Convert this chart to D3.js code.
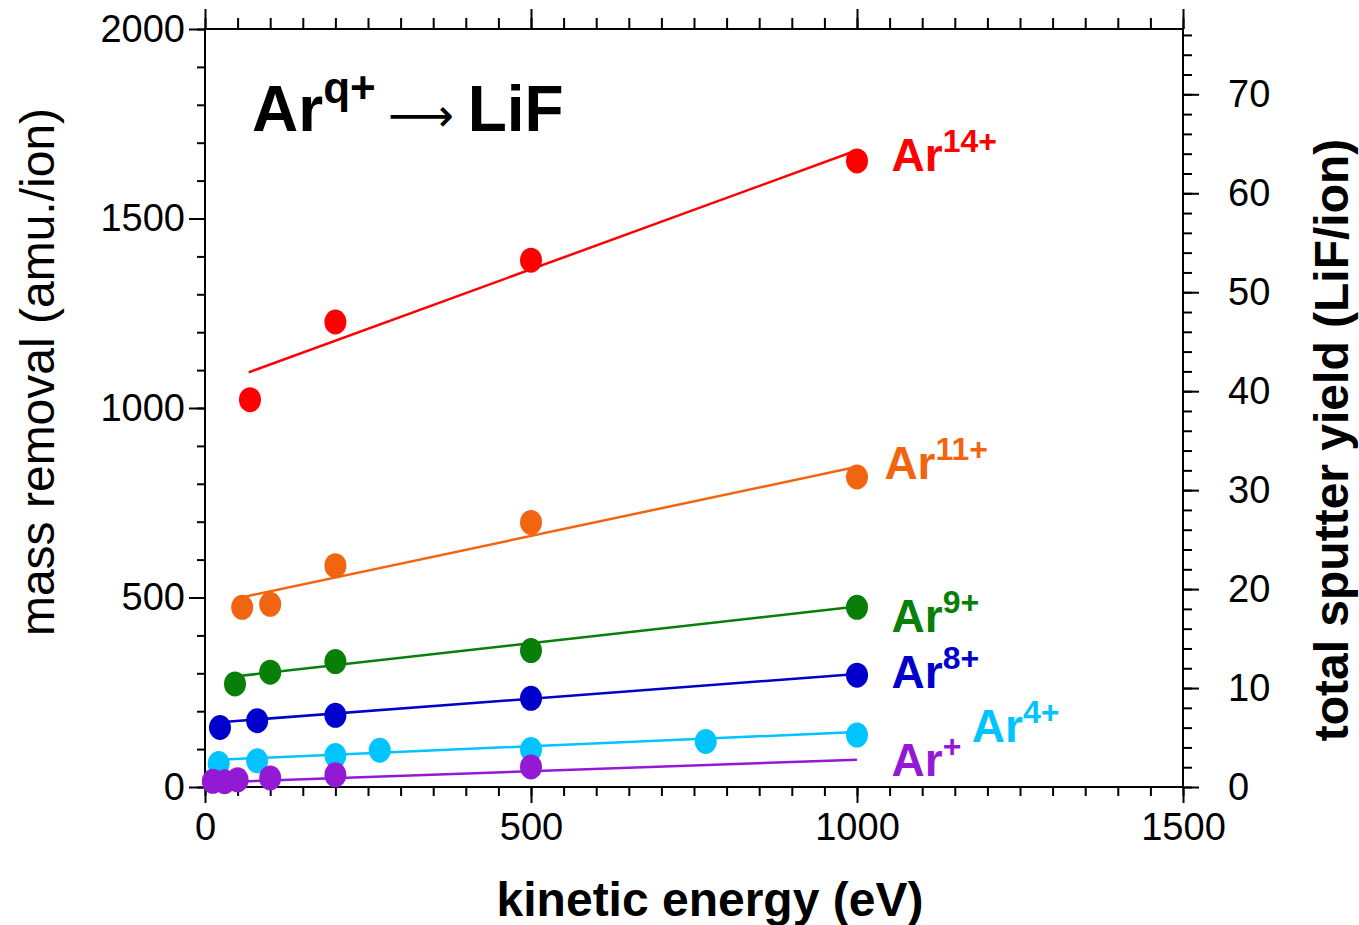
<!DOCTYPE html>
<html>
<head>
<meta charset="utf-8">
<script src="https://cdn.jsdelivr.net/npm/d3@7"></script>
<style>
  body { margin: 0; background: #fff; }
  text { font-family: "Liberation Sans", Arial, sans-serif; }
</style>
</head>
<body>
<script>
// ---- data ----
const ions = ["Ar14+", "Ar11+", "Ar9+", "Ar8+", "Ar4+", "Ar+"];
const ionSup = ["14+", "11+", "9+", "8+", "4+", "+"];
const ionColors = ["#ff0000", "#f26510", "#087f08", "#0000cc", "#00c4ff", "#9419d4"];

// measured points (energy eV, mass removal amu/ion)
const energy14 = [69, 200, 500, 1000];
const mass14   = [1022, 1227, 1390, 1652];
const energy11 = [57, 100, 200, 500, 1000];
const mass11   = [474, 482, 584, 698, 818];
const energy9  = [46, 100, 200, 500, 1000];
const mass9    = [272, 303, 331, 360, 474];
const energy8  = [23, 80, 200, 500, 1000];
const mass8    = [157, 175, 189, 234, 295];
const energy4  = [21, 80, 200, 268, 500, 768, 1000];
const mass4    = [62, 69, 83, 97, 99, 120, 137];
const energy1  = [12, 30, 50, 100, 200, 500];
const mass1    = [15, 14, 19, 24, 32, 53];

// fitted lines: [start, end] energy and mass
const fitE = [[67, 1000], [58, 1000], [48, 1000], [23, 1000], [21, 1000], [12, 1000]];
const fitM = [[1094, 1680], [501, 845], [292, 476], [171, 298], [72, 145], [12, 72]];

// label anchors (energy, mass)
const labelE = [1053, 1042, 1053, 1053, 1176, 1053];
const labelM = [1625, 812, 410, 262, 118, 28];

const xTicks = [0, 500, 1000, 1500];
const yTicks = [0, 500, 1000, 1500, 2000];
const y2Ticks = [0, 10, 20, 30, 40, 50, 60, 70];

const series = [
  [energy14, mass14], [energy11, mass11], [energy9, mass9],
  [energy8, mass8], [energy4, mass4], [energy1, mass1]
];

// ---- layout ----
const W = 1359, H = 925;
const plot = {left: 205, right: 1183, top: 29, bottom: 787};

const svg = d3.select("body").append("svg")
  .attr("width", W).attr("height", H);

const x = d3.scaleLinear().domain([0, 1500]).range([plot.left, plot.right]);
const y = d3.scaleLinear().domain([0, 2000]).range([plot.bottom, plot.top]);
const y2 = d3.scaleLinear().domain([0, 76.6]).range([plot.bottom, plot.top]);

// axes with minor + major ticks
function styleAxis(g) {
  g.selectAll(".domain").remove();
  g.selectAll("line").attr("stroke", "#000").attr("stroke-width", 2);
  g.selectAll("text").attr("font-size", 38).attr("fill", "#000");
}

// bottom
svg.append("g").attr("transform", `translate(0,${plot.bottom})`)
  .call(d3.axisBottom(x).tickValues(d3.range(0, 1501, 50)).tickSize(9).tickFormat(""))
  .call(styleAxis);
svg.append("g").attr("transform", `translate(0,${plot.bottom})`)
  .call(d3.axisBottom(x).tickValues(xTicks).tickSize(16).tickPadding(10).tickFormat(d3.format("d")))
  .call(styleAxis);
// top
svg.append("g").attr("transform", `translate(0,${plot.top})`)
  .call(d3.axisTop(x).tickValues(d3.range(0, 1501, 50)).tickSize(11).tickFormat(""))
  .call(styleAxis);
svg.append("g").attr("transform", `translate(0,${plot.top})`)
  .call(d3.axisTop(x).tickValues(xTicks).tickSize(20).tickFormat(""))
  .call(styleAxis);
// left
svg.append("g").attr("transform", `translate(${plot.left},0)`)
  .call(d3.axisLeft(y).tickValues(d3.range(0, 2001, 100)).tickSize(8).tickFormat(""))
  .call(styleAxis);
svg.append("g").attr("transform", `translate(${plot.left},0)`)
  .call(d3.axisLeft(y).tickValues(yTicks).tickSize(16).tickPadding(4).tickFormat(d3.format("d")))
  .call(styleAxis);
// right
svg.append("g").attr("transform", `translate(${plot.right},0)`)
  .call(d3.axisRight(y2).tickValues(d3.range(0, 77, 2)).tickSize(9).tickFormat(""))
  .call(styleAxis);
svg.append("g").attr("transform", `translate(${plot.right},0)`)
  .call(d3.axisRight(y2).tickValues(y2Ticks).tickSize(16).tickPadding(29).tickFormat(d3.format("d")))
  .call(styleAxis);

// frame
svg.append("rect")
  .attr("x", plot.left).attr("y", plot.top)
  .attr("width", plot.right - plot.left).attr("height", plot.bottom - plot.top)
  .attr("fill", "none").attr("stroke", "#000").attr("stroke-width", 2);

// fit lines
const line = d3.line().x(d => x(d[0])).y(d => y(d[1]));
ions.forEach((ion, i) => {
  svg.append("path")
    .datum(d3.zip(fitE[i], fitM[i]))
    .attr("d", line)
    .attr("fill", "none")
    .attr("stroke", ionColors[i])
    .attr("stroke-width", 2.5);
});

// points
ions.forEach((ion, i) => {
  const pts = d3.zip(series[i][0], series[i][1]);
  svg.append("g").selectAll("ellipse")
    .data(pts).enter().append("ellipse")
    .attr("cx", d => x(d[0]))
    .attr("cy", d => y(d[1]))
    .attr("rx", 11).attr("ry", 12.5)
    .attr("fill", ionColors[i]);
});

// series labels
ions.forEach((ion, i) => {
  const t = svg.append("text")
    .attr("x", x(labelE[i])).attr("y", y(labelM[i]))
    .attr("fill", ionColors[i])
    .attr("font-size", 46).attr("font-weight", "bold");
  t.append("tspan").text("Ar");
  t.append("tspan").text(ionSup[i])
    .attr("font-size", 32).attr("dy", -19);
});

// title
const title = svg.append("text")
  .attr("x", 252).attr("y", 131)
  .attr("font-size", 64).attr("font-weight", "bold").attr("fill", "#000");
title.append("tspan").text("Ar");
title.append("tspan").text("q+").attr("font-size", 44).attr("dy", -28);
title.append("tspan").text("\u27F6")
  .attr("font-family", "DejaVu Sans").attr("font-weight", "normal").attr("font-size", 46)
  .attr("dx", 12).attr("dy", 28);
title.append("tspan").text("LiF").attr("dx", 14);

// axis titles
svg.append("text")
  .attr("transform", `translate(54,372) rotate(-90)`)
  .attr("text-anchor", "middle")
  .attr("font-size", 48).attr("fill", "#000")
  .text("mass removal (amu./ion)");

svg.append("text")
  .attr("transform", `translate(1348,440) rotate(-90)`)
  .attr("text-anchor", "middle")
  .attr("font-size", 48).attr("font-weight", "bold").attr("fill", "#000")
  .text("total sputter yield (LiF/ion)");

svg.append("text")
  .attr("x", 710).attr("y", 916)
  .attr("text-anchor", "middle")
  .attr("font-size", 48).attr("font-weight", "bold").attr("fill", "#000")
  .text("kinetic energy (eV)");
</script>
</body>
</html>
